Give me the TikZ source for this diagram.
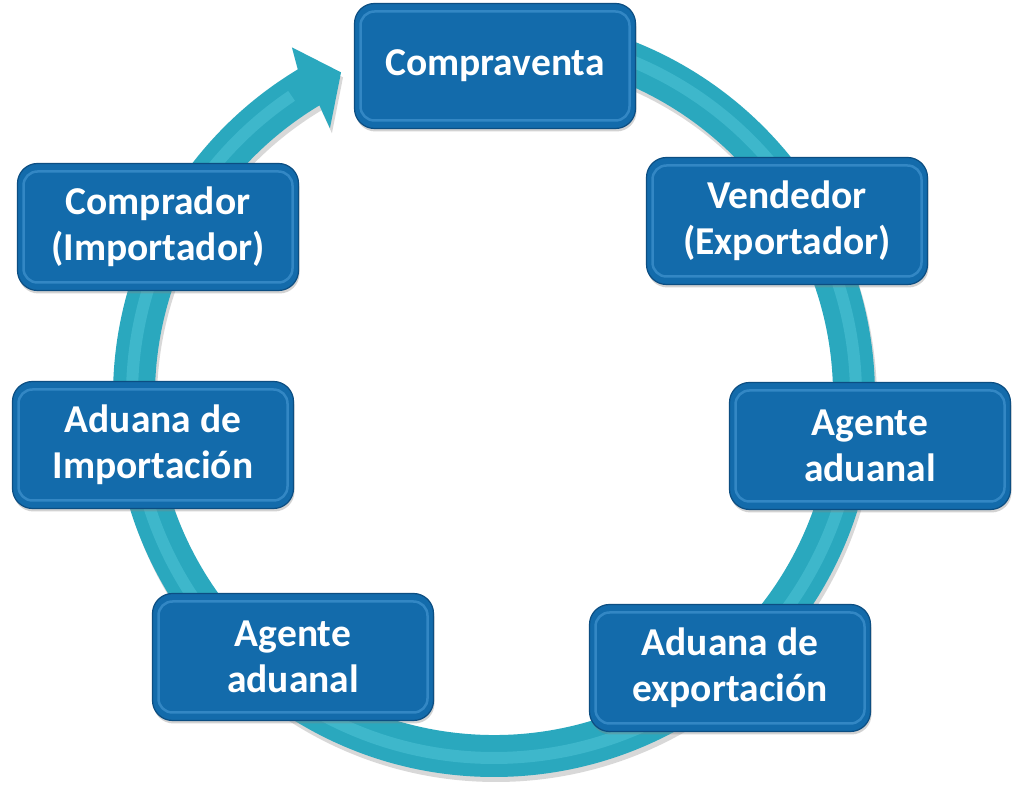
\documentclass[tikz,border=0pt]{standalone}
\usepackage{fontspec}
\setmainfont{Carlito}
\usetikzlibrary{shapes,arrows,positioning,shadows}

\definecolor{boxblue}{RGB}{19,107,171}
\definecolor{boxedge}{RGB}{12,78,130}
\definecolor{boxrim}{RGB}{90,170,228}
\definecolor{ringteal}{RGB}{42,168,190}
\definecolor{ringlight}{RGB}{110,218,234}

\tikzset{
  stage/.style={draw=boxedge, line width=1.2pt, fill=boxblue, rounded corners=20pt,
    minimum width=281pt, minimum height=127pt, align=center, text=white,
    font=\fontsize{39.5}{46}\selectfont\bfseries,
    drop shadow={opacity=0.35, shadow xshift=1pt, shadow yshift=-3pt},
    path picture={\draw[boxrim, line width=2.5pt, rounded corners=14pt, opacity=0.45]
      ([shift={(6pt,8pt)}]path picture bounding box.south west) rectangle
      ([shift={(-6pt,-8pt)}]path picture bounding box.north east);}},
}

\begin{document}
\begin{tikzpicture}[x=1pt,y=1pt]
  \path[use as bounding box, fill=white] (0,0) rectangle (1026,792);
  %ring
  \begin{scope}[shift={(494,396)}]
    \fill[ringteal, drop shadow={opacity=0.3, shadow xshift=2pt, shadow yshift=-5pt}]
      (90:381pt) arc[start angle=90, end angle=-239, radius=381pt]
      -- (-239.9:403pt) -- (-244.7:358pt) -- (-238.5:314pt) -- (-239:339pt)
      arc[start angle=-239, end angle=90, radius=339pt] -- cycle;
    \draw[ringlight, line width=12pt, opacity=0.3]
      (90:362pt) arc[start angle=90, end angle=-236, radius=362pt];
  \end{scope}
  %stages
  \node[stage, minimum height=125pt] (deal) at (495,726) {Compraventa};
  \node[stage] (seller) at (787,571) {Vendedor\\(Exportador)};
  \node[stage] (agentR) at (870,346) {Agente\\aduanal};
  \node[stage] (exportCust) at (730,124) {Aduana de\\exportación};
  \node[stage] (agentL) at (293,135) {Agente\\aduanal};
  \node[stage] (importCust) at (153,347) {Aduana de\\Importación};
  \node[stage] (buyer) at (158,565) {Comprador\\(Importador)};
\end{tikzpicture}
\end{document}
